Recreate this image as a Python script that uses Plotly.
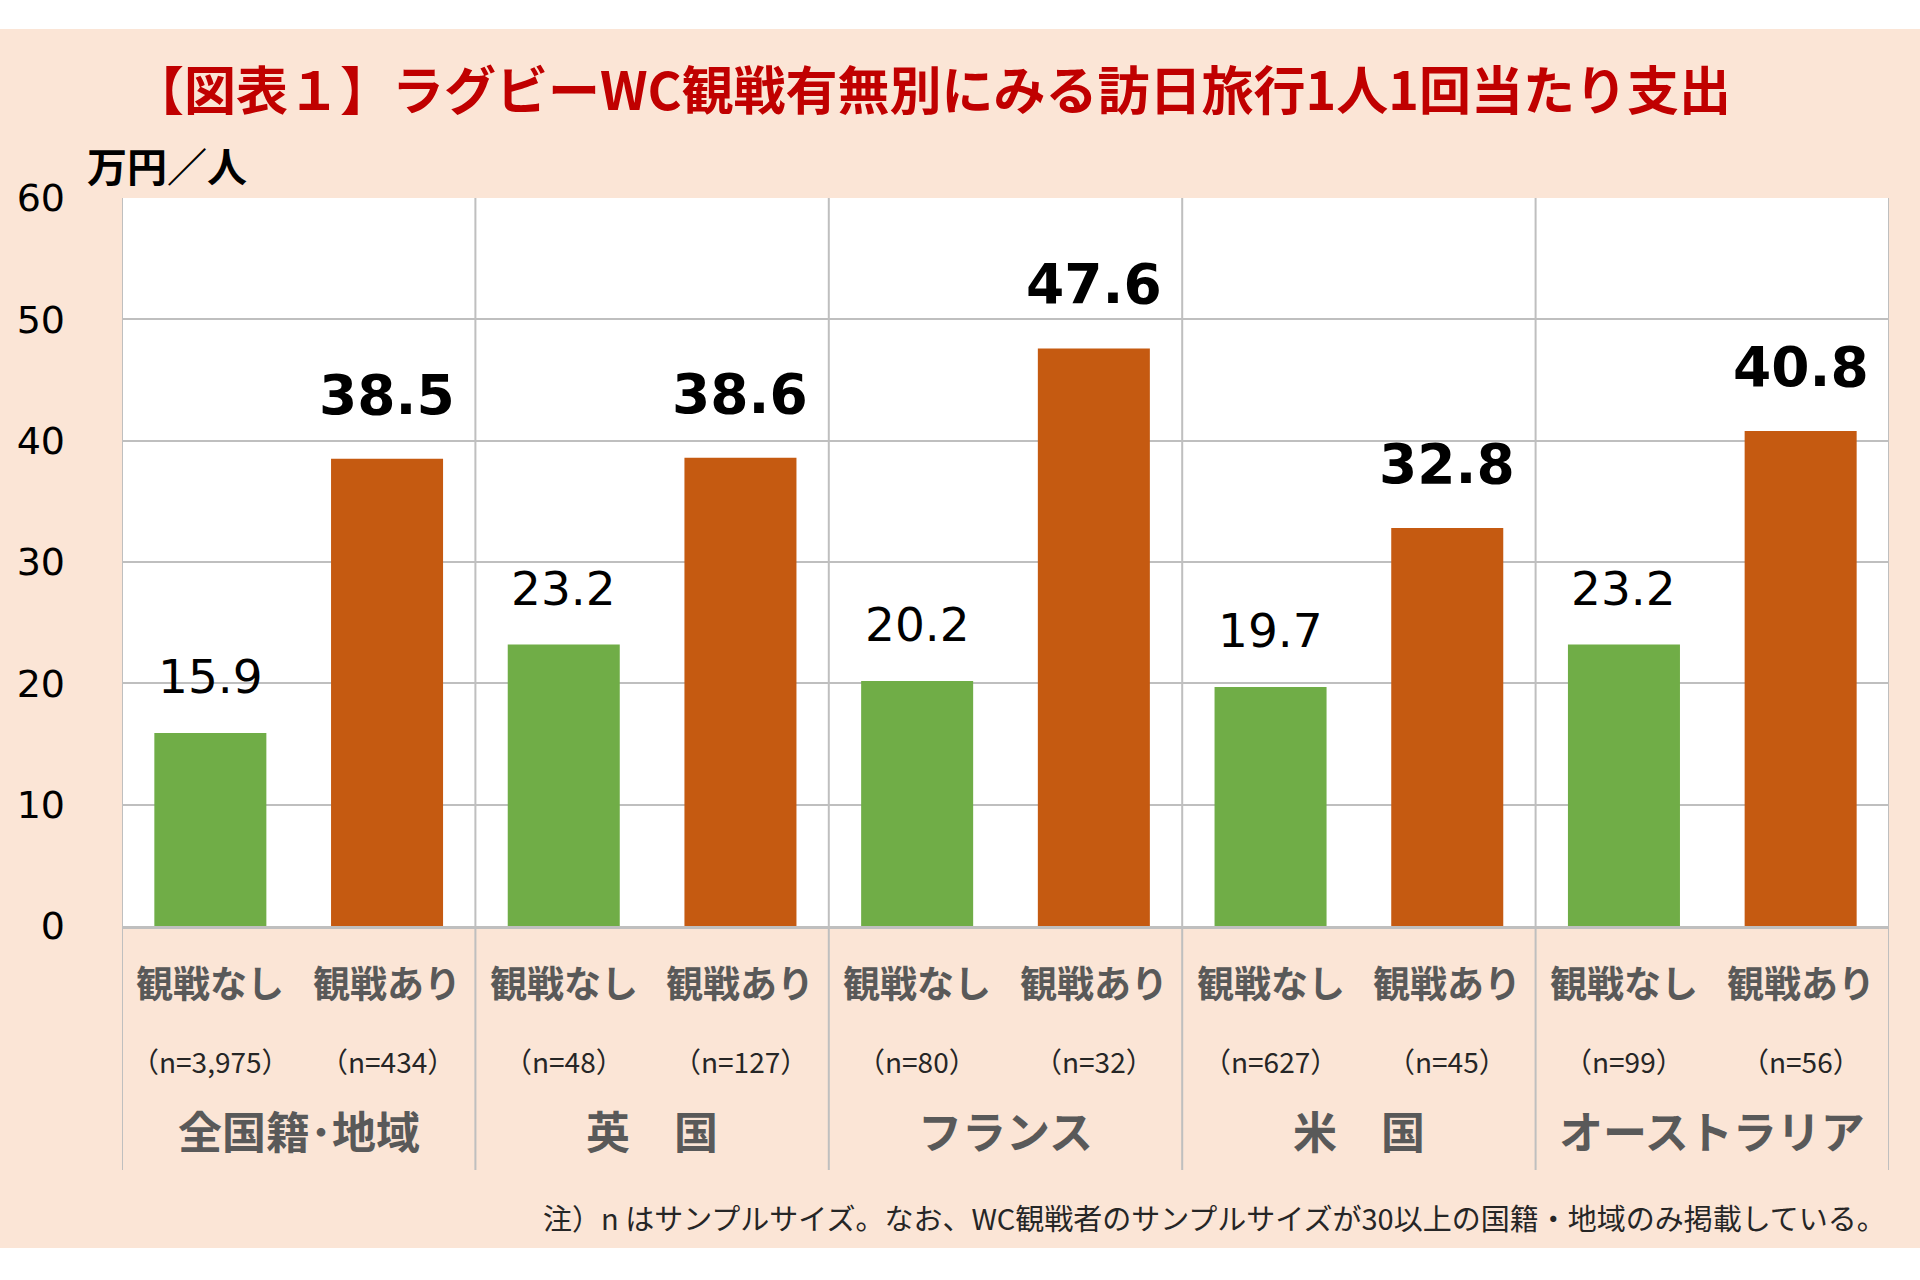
import plotly.graph_objects as go

# ---- data ----
groups = ["全国籍･地域", "英　国", "フランス", "米　国", "オーストラリア"]
sub_labels = ["観戦なし", "観戦あり"]
no_watch = [15.9, 23.2, 20.2, 19.7, 23.2]
watch = [38.5, 38.6, 47.6, 32.8, 40.8]
n_no_watch = ["（n=3,975）", "（n=48）", "（n=80）", "（n=627）", "（n=99）"]
n_watch = ["（n=434）", "（n=127）", "（n=32）", "（n=45）", "（n=56）"]
y_ticks = [0, 10, 20, 30, 40, 50, 60]

title_text = "【図表１】ラグビーWC観戦有無別にみる訪日旅行1人1回当たり支出"
y_unit = "万円／人"
footnote = "注）n はサンプルサイズ。なお、WC観戦者のサンプルサイズが30以上の国籍・地域のみ掲載している。"

# ---- layout constants (pixels) ----
W, H = 1920, 1280
PL, PR, PT, PB = 122, 1889, 198, 926
PW, PH = PR - PL, PB - PT

def px(p):
    return (p - PL) / PW

def py(p):
    return (PB - p) / PH

GREEN = "#70AD47"
ORANGE = "#C55A11"
GRID = "#BFBFBF"
PEACH = "#FBE5D6"
CJK = "Noto Sans CJK JP"

x_no = [2 * i for i in range(len(groups))]
x_yes = [2 * i + 1 for i in range(len(groups))]

fig = go.Figure()
fig.add_trace(go.Bar(x=x_no, y=no_watch, marker=dict(color=GREEN, line=dict(width=0)),
                     width=0.634, hoverinfo="skip"))
fig.add_trace(go.Bar(x=x_yes, y=watch, marker=dict(color=ORANGE, line=dict(width=0)),
                     width=0.634, hoverinfo="skip"))

ann = []
# data labels
for x, v in zip(x_no, no_watch):
    ann.append(dict(x=x, y=v, xref="x", yref="y", text=f"{v:.1f}", showarrow=False,
                    yanchor="bottom", xanchor="center", yshift=27,
                    font=dict(family="DejaVu Sans", size=47, color="#000000")))
for x, v in zip(x_yes, watch):
    ann.append(dict(x=x, y=v, xref="x", yref="y", text=f"<b>{v:.1f}</b>", showarrow=False,
                    yanchor="bottom", xanchor="center", yshift=30,
                    font=dict(family="DejaVu Sans", size=55, color="#000000")))

# category labels
for i in range(len(groups)):
    for k, xx in enumerate([x_no[i], x_yes[i]]):
        ann.append(dict(x=xx, y=py(982), xref="x", yref="paper", text=f"<b>{sub_labels[k]}</b>",
                        showarrow=False, xanchor="center", yanchor="middle",
                        font=dict(family=CJK, size=37, color="#595959")))
    ann.append(dict(x=x_no[i], y=py(1061), xref="x", yref="paper", text=n_no_watch[i],
                    showarrow=False, xanchor="center", yanchor="middle",
                    font=dict(family=CJK, size=28, color="#262626")))
    ann.append(dict(x=x_yes[i], y=py(1061), xref="x", yref="paper", text=n_watch[i],
                    showarrow=False, xanchor="center", yanchor="middle",
                    font=dict(family=CJK, size=28, color="#262626")))
    ann.append(dict(x=(x_no[i] + x_yes[i]) / 2, y=py(1130), xref="x", yref="paper",
                    text=f"<b>{groups[i]}</b>", showarrow=False, xanchor="center", yanchor="middle",
                    font=dict(family=CJK, size=44, color="#595959")))

# title, unit, footnote
ann.append(dict(x=px(931), y=py(87), xref="paper", yref="paper", text=f"<b>{title_text}</b>",
                showarrow=False, xanchor="center", yanchor="middle",
                font=dict(family=CJK, size=52, color="#C00000")))
ann.append(dict(x=px(85), y=py(165), xref="paper", yref="paper", text=f"<b>{y_unit}</b>",
                showarrow=False, xanchor="left", yanchor="middle",
                font=dict(family=CJK, size=40, color="#000000")))
ann.append(dict(x=px(1888), y=py(1217), xref="paper", yref="paper", text=footnote,
                showarrow=False, xanchor="right", yanchor="middle",
                font=dict(family=CJK, size=29, color="#262626")))

shapes = []
# white bands top & bottom
shapes.append(dict(type="rect", xref="paper", yref="paper", x0=px(-10), x1=px(W + 10),
                   y0=py(29), y1=py(-10), fillcolor="white", line=dict(width=0), layer="below"))
shapes.append(dict(type="rect", xref="paper", yref="paper", x0=px(-10), x1=px(W + 10),
                   y0=py(H + 10), y1=py(1248), fillcolor="white", line=dict(width=0), layer="below"))
# group dividers
n_cat = 2 * len(groups)
for j in range(len(groups) + 1):
    xd = 2 * j - 0.5
    shapes.append(dict(type="line", xref="x", yref="paper", x0=xd, x1=xd,
                       y0=py(1170), y1=1, line=dict(color=GRID, width=2), layer="below"))

fig.update_layout(
    width=W, height=H, autosize=False,
    margin=dict(l=PL, r=W - PR, t=PT, b=H - PB, pad=0),
    paper_bgcolor=PEACH, plot_bgcolor="white",
    showlegend=False, barmode="overlay",
    annotations=ann, shapes=shapes,
    xaxis=dict(range=[-0.5, n_cat - 0.5], showticklabels=False, showgrid=False,
               zeroline=False, showline=True, linecolor=GRID, linewidth=3, ticks="",
               fixedrange=True),
    yaxis=dict(range=[0, 60], tickvals=y_ticks, ticktext=[str(t) for t in y_ticks],
               showgrid=True, gridcolor=GRID, gridwidth=2, zeroline=False,
               showline=False, ticks="", ticklabelstandoff=56,
               tickfont=dict(family="DejaVu Sans", size=38, color="#000000"),
               fixedrange=True),
)

fig.write_html(
    "out.html",
    config={"displayModeBar": False},
    post_script="document.body.style.margin='0';document.body.style.padding='0';"
                "document.body.style.overflow='hidden';",
)
